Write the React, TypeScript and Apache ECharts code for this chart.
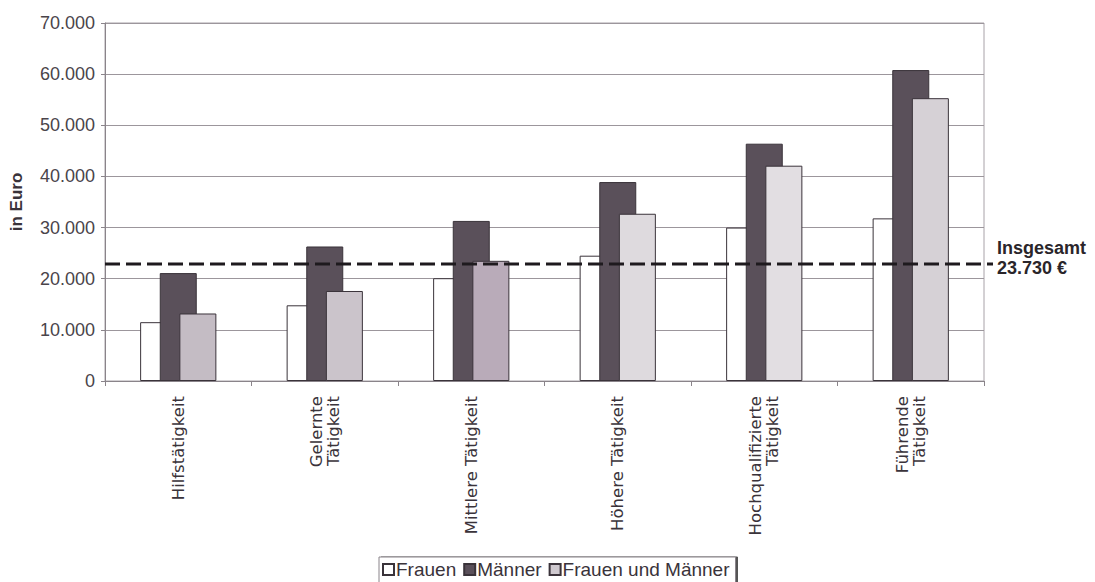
import React, { useEffect, useRef } from "react";
import * as echarts from "echarts";

const categories = [
  "Hilfstätigkeit",
  "Gelernte\nTätigkeit",
  "Mittlere Tätigkeit",
  "Höhere Tätigkeit",
  "Hochqualifizierte\nTätigkeit",
  "Führende\nTätigkeit",
];
const frauen = [11500, 14800, 20100, 24500, 30000, 31800];
const maenner = [21100, 26300, 31300, 38900, 46400, 60800];
const frauenUndMaenner = [13200, 17600, 23500, 32700, 42100, 55300];
const fmShades = ["#c4bcc4", "#cbc4cb", "#b9abb9", "#dedade", "#e2dee2", "#d6d1d6"];
const insgesamtLinie = 22900;
const insgesamtLabel = ["Insgesamt", "23.730 €"];
const yTicks = { min: 0, max: 70000, interval: 10000 };

const fmt = (v: number) => String(v).replace(/\B(?=(\d{3})+(?!\d))/g, ".");

export default function App() {
  const ref = useRef<HTMLDivElement>(null);
  useEffect(() => {
    document.body.style.margin = "0";
    const chart = echarts.init(ref.current!, null, { renderer: "svg" });
    const border = { borderColor: "#3a333a", borderWidth: 1 };
    chart.setOption({
      animation: false,
      backgroundColor: "#ffffff",
      grid: {
        left: 102,
        right: 111,
        top: 23,
        bottom: 201,
        show: true,
        borderColor: "#a8a2a8",
        borderWidth: 1,
      },
      legend: {
        data: ["Frauen", "Männer", "Frauen und Männer"],
        left: 379,
        top: 557,
        icon: "rect",
        itemWidth: 11,
        itemHeight: 11,
        itemGap: 7,
        padding: [3, 6, 6, 3],
        borderColor: "#8a848a",
        borderWidth: 1,
        backgroundColor: "#fff",
        shadowColor: "#555",
        shadowOffsetX: 2,
        shadowOffsetY: 0,
        shadowBlur: 0,
        textStyle: {
          fontFamily: "Liberation Sans",
          fontSize: 19,
          color: "#3a333a",
          padding: [0, 0, 0, -3],
        },
      },
      xAxis: {
        type: "category",
        data: categories,
        axisLine: { lineStyle: { color: "#8a848a" } },
        axisTick: { show: true, length: 5, lineStyle: { color: "#8a848a" } },
        axisLabel: {
          interval: 0,
          rotate: 90,
          margin: 15,
          fontFamily: "DejaVu Sans",
          fontSize: 16.5,
          lineHeight: 17,
          color: "#3a333a",
        },
      },
      yAxis: {
        type: "value",
        min: yTicks.min,
        max: yTicks.max,
        interval: yTicks.interval,
        name: "in Euro",
        nameLocation: "middle",
        nameRotate: 90,
        nameGap: 80,
        nameTextStyle: {
          fontFamily: "Liberation Sans",
          fontWeight: "bold",
          fontSize: 17,
          color: "#3a333a",
        },
        axisLine: { show: true, lineStyle: { color: "#8a848a" } },
        axisTick: { show: true, length: 4, lineStyle: { color: "#8a848a" } },
        axisLabel: {
          formatter: (v: number) => fmt(v),
          margin: 10,
          fontFamily: "Liberation Sans",
          fontSize: 18,
          color: "#4a444a",
        },
        splitLine: { lineStyle: { color: "#9c969c", width: 1 } },
      },
      series: [
        {
          name: "Frauen",
          type: "bar",
          data: frauen,
          barWidth: 37,
          barGap: "-47%",
          itemStyle: { color: "#ffffff", ...border },
        },
        {
          name: "Männer",
          type: "bar",
          data: maenner,
          barWidth: 37,
          barGap: "-47%",
          itemStyle: { color: "#5a505a", ...border },
        },
        {
          name: "Frauen und Männer",
          type: "bar",
          data: frauenUndMaenner.map((v, i) => ({
            value: v,
            itemStyle: { color: fmShades[i] },
          })),
          barWidth: 37,
          barGap: "-47%",
          itemStyle: { color: "#cfc9cf", ...border },
        },
      ],
    });

    const y = chart.convertToPixel({ yAxisIndex: 0 }, insgesamtLinie) as number;
    const c0 = chart.convertToPixel({ xAxisIndex: 0 }, 0) as number;
    const c1 = chart.convertToPixel({ xAxisIndex: 0 }, 1) as number;
    const cLast = chart.convertToPixel({ xAxisIndex: 0 }, categories.length - 1) as number;
    const band = c1 - c0;
    const x1 = c0 - band / 2;
    const x2 = cLast + band / 2 + 9;
    chart.setOption({
      graphic: [
        {
          type: "line",
          shape: { x1, y1: y, x2, y2: y },
          style: { stroke: "#1e1a1e", lineWidth: 3, lineDash: [15, 6] },
          z: 100,
        },
        {
          type: "text",
          x: x2 + 4,
          y: y - 6,
          style: {
            text: insgesamtLabel.join("\n"),
            fontFamily: "Liberation Sans",
            fontWeight: "bold",
            fontSize: 18,
            lineHeight: 20,
            fill: "#2a252a",
            verticalAlign: "middle",
            textAlign: "left",
          },
          z: 100,
        },
      ],
    });
    return () => chart.dispose();
  }, []);
  return <div ref={ref} style={{ width: 1095, height: 582 }} />;
}
